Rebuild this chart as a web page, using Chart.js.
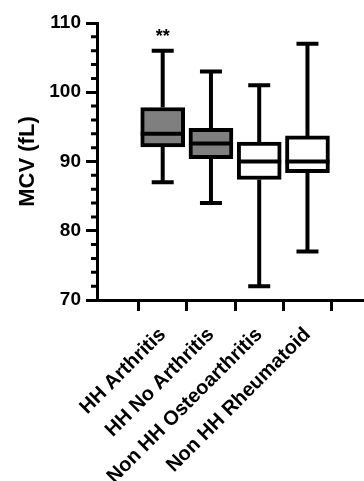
<!DOCTYPE html>
<html>
<head>
<meta charset="UTF-8">
<title>MCV box plot</title>
<script src="https://cdn.jsdelivr.net/npm/chart.js"></script>
<style>
  html, body { margin: 0; padding: 0; background: #fff; overflow: hidden; }
  #wrap { width: 364px; height: 481px; }
</style>
</head>
<body>
<div id="wrap"><canvas id="mcvChart"></canvas></div>
<script>
// values (fL)
const groups = ['HH Arthritis', 'HH No Arthritis', 'Non HH Osteoarthritis', 'Non HH Rheumatoid'];
const mins = [87, 84, 72, 77];
const q1s = [92.1, 90.4, 87.4, 88.4];
const medians = [94, 92.6, 90, 90];
const q3s = [97.8, 94.8, 92.8, 93.7];
const maxs = [106, 103, 101, 107];
const marks = ['**', '', '', ''];
const boxFills = ['#7f7f7f', '#7f7f7f', '#ffffff', '#ffffff'];

const FONT = 'Liberation Sans, Arial, sans-serif';

// whiskers, medians, minor ticks and significance marks
const boxExtras = {
  id: 'boxExtras',
  afterDatasetsDraw(chart) {
    const ctx = chart.ctx;
    const xs = chart.scales.x, ys = chart.scales.y;
    const bars = chart.getDatasetMeta(0).data;
    ctx.save();
    ctx.strokeStyle = '#000';
    ctx.lineWidth = 4;
    ctx.lineCap = 'butt';
    groups.forEach((g, i) => {
      const x = xs.getPixelForValue(i);
      const half = bars[i].width / 2;
      const capHalf = 11;
      ctx.beginPath();
      // upper whisker + cap
      ctx.moveTo(x, ys.getPixelForValue(q3s[i]));
      ctx.lineTo(x, ys.getPixelForValue(maxs[i]));
      ctx.moveTo(x - capHalf, ys.getPixelForValue(maxs[i]));
      ctx.lineTo(x + capHalf, ys.getPixelForValue(maxs[i]));
      // lower whisker + cap
      ctx.moveTo(x, ys.getPixelForValue(q1s[i]));
      ctx.lineTo(x, ys.getPixelForValue(mins[i]));
      ctx.moveTo(x - capHalf, ys.getPixelForValue(mins[i]));
      ctx.lineTo(x + capHalf, ys.getPixelForValue(mins[i]));
      // median
      ctx.moveTo(x - half, ys.getPixelForValue(medians[i]));
      ctx.lineTo(x + half, ys.getPixelForValue(medians[i]));
      ctx.stroke();
      if (marks[i]) {
        ctx.fillStyle = '#000';
        ctx.font = 'bold 18px ' + FONT;
        ctx.textAlign = 'center';
        ctx.textBaseline = 'alphabetic';
        ctx.fillText(marks[i], x, ys.getPixelForValue(maxs[i]) - 9);
      }
    });
    // minor ticks on y axis
    ctx.lineWidth = 3;
    ctx.beginPath();
    for (let v = ys.min; v <= ys.max; v += 2) {
      if (v % 10 === 0) continue;
      const y = ys.getPixelForValue(v);
      ctx.moveTo(ys.right - 6, y);
      ctx.lineTo(ys.right, y);
    }
    ctx.stroke();
    ctx.restore();
  }
};

new Chart(document.getElementById('mcvChart'), {
  type: 'bar',
  data: {
    datasets: [{
      data: groups.map((g, i) => ({ x: i, y: [q1s[i], q3s[i]] })),
      backgroundColor: boxFills,
      borderColor: '#000',
      borderWidth: 4,
      borderSkipped: false,
      barThickness: 44
    }]
  },
  options: {
    responsive: true,
    maintainAspectRatio: false,
    animation: false,
    layout: { padding: { top: 23, right: 0, bottom: 0, left: 0 } },
    plugins: { legend: { display: false }, tooltip: { enabled: false } },
    scales: {
      x: {
        type: 'linear',
        min: -0.67,
        max: 3.48,
        afterBuildTicks: s => { s.ticks = groups.map((g, i) => ({ value: i })); },
        afterFit: s => { s.height = 181; },
        border: { display: true, color: '#000', width: 3 },
        grid: { drawOnChartArea: false, drawTicks: true, tickLength: 11, color: '#000', lineWidth: 3 },
        ticks: {
          autoSkip: false,
          minRotation: 45,
          maxRotation: 45,
          padding: 12,
          color: '#000',
          font: { family: FONT, size: 20, weight: 'bold' },
          callback: v => groups[v]
        }
      },
      y: {
        min: 70,
        max: 110,
        afterFit: s => { s.width = 97; },
        border: { display: true, color: '#000', width: 3 },
        grid: { drawOnChartArea: false, drawTicks: true, tickLength: 11, color: '#000', lineWidth: 3 },
        ticks: {
          stepSize: 10,
          padding: 5,
          color: '#000',
          font: { family: FONT, size: 19, weight: 'bold' }
        },
        title: {
          display: true,
          text: 'MCV (fL)',
          color: '#000',
          padding: { top: 15, bottom: 0 },
          font: { family: FONT, size: 22, weight: 'bold' }
        }
      }
    }
  },
  plugins: [boxExtras]
});
</script>
</body>
</html>
